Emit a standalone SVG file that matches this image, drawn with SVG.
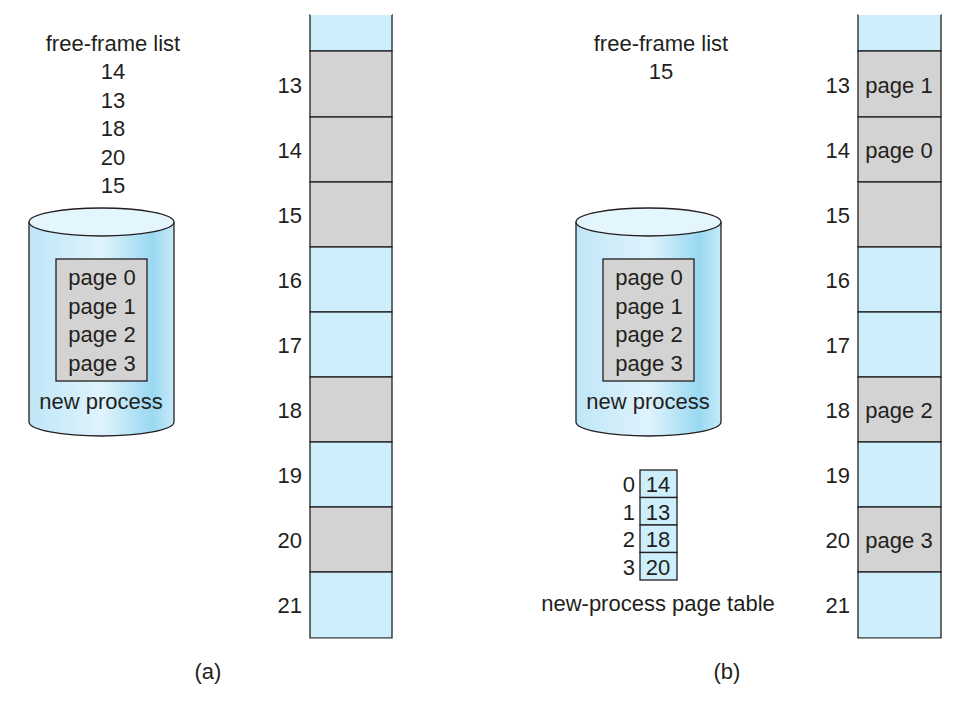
<svg xmlns="http://www.w3.org/2000/svg" width="970" height="720" viewBox="0 0 970 720">
<defs>
<style>
text{font-family:"Liberation Sans",Arial,sans-serif;font-size:22px;fill:#231f20}
.b{fill:#cdeefb;stroke:#231f20;stroke-width:1.3}
.g{fill:#d3d3d3;stroke:#231f20;stroke-width:1.3}
.m{text-anchor:middle}
.e{text-anchor:end}
</style>
<linearGradient id="cyl" x1="0" x2="1" y1="0" y2="0">
<stop offset="0" stop-color="#bfe6f7"/><stop offset="0.5" stop-color="#dff3fc"/><stop offset="0.85" stop-color="#9ad8f2"/><stop offset="1" stop-color="#c6eaf8"/>
</linearGradient>
<g id="cylshape">
<path d="M0,0 V200 A72.5,14 0 0 0 145,200 V0" fill="url(#cyl)" stroke="#231f20" stroke-width="1.3"/>
<ellipse cx="72.5" cy="0" rx="72.5" ry="14" fill="#e3f5fd" stroke="#231f20" stroke-width="1.3"/>
<rect x="27" y="37" width="91" height="122" class="g"/>
</g>
</defs>
<!-- (a) -->
<g id="freelist-a">
<text x="113" y="51" class="m">free-frame list</text>
<text x="113" y="79" class="m">14</text>
<text x="113" y="108" class="m">13</text>
<text x="113" y="136" class="m">18</text>
<text x="113" y="165" class="m">20</text>
<text x="113" y="193" class="m">15</text>
</g>
<g id="disk-a">
<use href="#cylshape" x="29" y="222"/>
<text x="102" y="285" class="m">page 0</text>
<text x="102" y="314" class="m">page 1</text>
<text x="102" y="342" class="m">page 2</text>
<text x="102" y="371" class="m">page 3</text>
<text x="101" y="409" class="m">new process</text>
</g>
<g id="memory-a">
<rect x="310" y="14" width="82" height="37" class="b"/>
<rect x="310" y="51" width="82" height="66" class="g"/>
<rect x="310" y="117" width="82" height="65" class="g"/>
<rect x="310" y="182" width="82" height="65" class="g"/>
<rect x="310" y="247" width="82" height="65" class="b"/>
<rect x="310" y="312" width="82" height="65" class="b"/>
<rect x="310" y="377" width="82" height="65" class="g"/>
<rect x="310" y="442" width="82" height="65" class="b"/>
<rect x="310" y="507" width="82" height="65" class="g"/>
<rect x="310" y="572" width="82" height="66" class="b"/>
<rect x="305" y="0" width="92" height="14" fill="#fff"/>
<line x1="310" y1="14" x2="392" y2="14" stroke="#fff" stroke-width="2"/>
<rect x="305" y="638.7" width="92" height="10" fill="#fff"/>
<text x="302" y="93" class="e">13</text>
<text x="302" y="158" class="e">14</text>
<text x="302" y="223" class="e">15</text>
<text x="302" y="288" class="e">16</text>
<text x="302" y="353" class="e">17</text>
<text x="302" y="418" class="e">18</text>
<text x="302" y="483" class="e">19</text>
<text x="302" y="548" class="e">20</text>
<text x="302" y="613" class="e">21</text>
</g>
<text x="208" y="679" class="m">(a)</text>
<!-- (b) -->
<g id="freelist-b">
<text x="661" y="51" class="m">free-frame list</text>
<text x="661" y="79" class="m">15</text>
</g>
<g id="disk-b">
<use href="#cylshape" x="576" y="222"/>
<text x="649" y="285" class="m">page 0</text>
<text x="649" y="314" class="m">page 1</text>
<text x="649" y="342" class="m">page 2</text>
<text x="649" y="371" class="m">page 3</text>
<text x="648" y="409" class="m">new process</text>
</g>
<g id="pagetable">
<rect x="640" y="470" width="37" height="27.5" class="b"/>
<rect x="640" y="497.5" width="37" height="27.5" class="b"/>
<rect x="640" y="525" width="37" height="27.5" class="b"/>
<rect x="640" y="552.5" width="37" height="27.5" class="b"/>
<text x="658" y="492" class="m">14</text>
<text x="658" y="520" class="m">13</text>
<text x="658" y="547" class="m">18</text>
<text x="658" y="575" class="m">20</text>
<text x="635" y="492" class="e">0</text>
<text x="635" y="520" class="e">1</text>
<text x="635" y="547" class="e">2</text>
<text x="635" y="575" class="e">3</text>
<text x="658" y="611" class="m">new-process page table</text>
</g>
<g id="memory-b">
<rect x="858" y="14" width="83" height="37" class="b"/>
<rect x="858" y="51" width="83" height="66" class="g"/>
<rect x="858" y="117" width="83" height="65" class="g"/>
<rect x="858" y="182" width="83" height="65" class="g"/>
<rect x="858" y="247" width="83" height="65" class="b"/>
<rect x="858" y="312" width="83" height="65" class="b"/>
<rect x="858" y="377" width="83" height="65" class="g"/>
<rect x="858" y="442" width="83" height="65" class="b"/>
<rect x="858" y="507" width="83" height="65" class="g"/>
<rect x="858" y="572" width="83" height="66" class="b"/>
<rect x="853" y="0" width="93" height="14" fill="#fff"/>
<line x1="858" y1="14" x2="941" y2="14" stroke="#fff" stroke-width="2"/>
<rect x="853" y="638.7" width="93" height="10" fill="#fff"/>
<text x="899" y="93" class="m">page 1</text>
<text x="899" y="158" class="m">page 0</text>
<text x="899" y="418" class="m">page 2</text>
<text x="899" y="548" class="m">page 3</text>
<text x="850" y="93" class="e">13</text>
<text x="850" y="158" class="e">14</text>
<text x="850" y="223" class="e">15</text>
<text x="850" y="288" class="e">16</text>
<text x="850" y="353" class="e">17</text>
<text x="850" y="418" class="e">18</text>
<text x="850" y="483" class="e">19</text>
<text x="850" y="548" class="e">20</text>
<text x="850" y="613" class="e">21</text>
</g>
<text x="727" y="679" class="m">(b)</text>
</svg>
